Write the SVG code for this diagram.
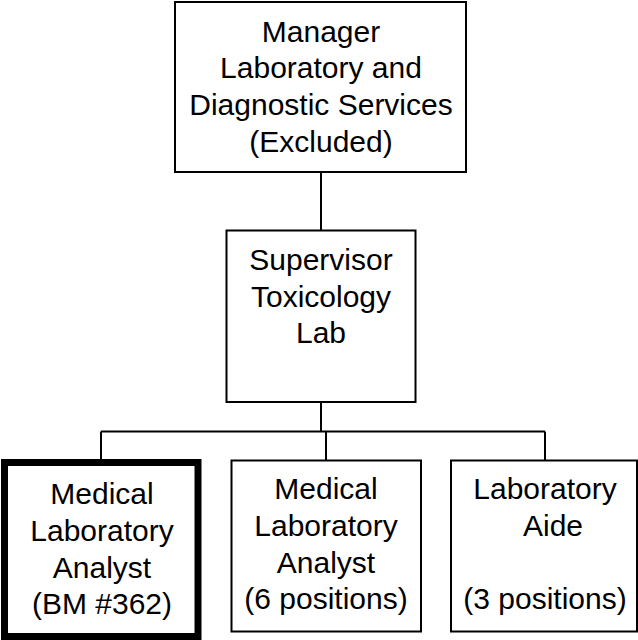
<svg xmlns="http://www.w3.org/2000/svg" width="638" height="640" viewBox="0 0 638 640">
<style>
.box{fill:#fff;stroke:#000;stroke-width:2}
.thick{fill:#fff;stroke:#000;stroke-width:7}
.lbl{font-family:"Liberation Sans",Arial,sans-serif;font-size:30px;fill:#000;text-anchor:middle}
.con{fill:none;stroke:#000;stroke-width:2}
</style>
<rect width="638" height="640" fill="#fff"/>
<g id="connectors">
<path class="con" d="M321,172V230.5"/>
<path class="con" d="M321,402V431.5"/>
<path class="con" d="M101,431.5H545"/>
<path class="con" d="M101,431.5V459"/>
<path class="con" d="M326,431.5V460.5"/>
<path class="con" d="M545,431.5V460.5"/>
</g>
<g id="manager">
<rect class="box" x="175" y="2" width="291" height="170"/>
<text class="lbl"><tspan x="321" y="41.5">Manager</tspan><tspan x="321" y="78.2">Laboratory and</tspan><tspan x="321" y="114.9">Diagnostic Services</tspan><tspan x="321" y="151.6">(Excluded)</tspan></text>
</g>
<g id="supervisor">
<rect class="box" x="226.5" y="230.5" width="189" height="171.5"/>
<text class="lbl"><tspan x="321" y="270">Supervisor</tspan><tspan x="321" y="306.7">Toxicology</tspan><tspan x="321" y="343.4">Lab</tspan></text>
</g>
<g id="analyst-bm362">
<rect class="thick" x="4.5" y="462.5" width="193.5" height="174"/>
<text class="lbl"><tspan x="102" y="504.3">Medical</tspan><tspan x="102" y="541">Laboratory</tspan><tspan x="102" y="577.7">Analyst</tspan><tspan x="102" y="614.4">(BM #362)</tspan></text>
</g>
<g id="analyst-6">
<rect class="box" x="231.5" y="460.5" width="189.5" height="171"/>
<text class="lbl"><tspan x="326" y="499.3">Medical</tspan><tspan x="326" y="536">Laboratory</tspan><tspan x="326" y="572.7">Analyst</tspan><tspan x="326" y="609.4">(6 positions)</tspan></text>
</g>
<g id="aide">
<rect class="box" x="451" y="460.5" width="186" height="171"/>
<text class="lbl"><tspan x="545" y="499.3">Laboratory</tspan><tspan x="553" y="536">Aide</tspan><tspan x="545" y="609.4">(3 positions)</tspan></text>
</g>
</svg>
